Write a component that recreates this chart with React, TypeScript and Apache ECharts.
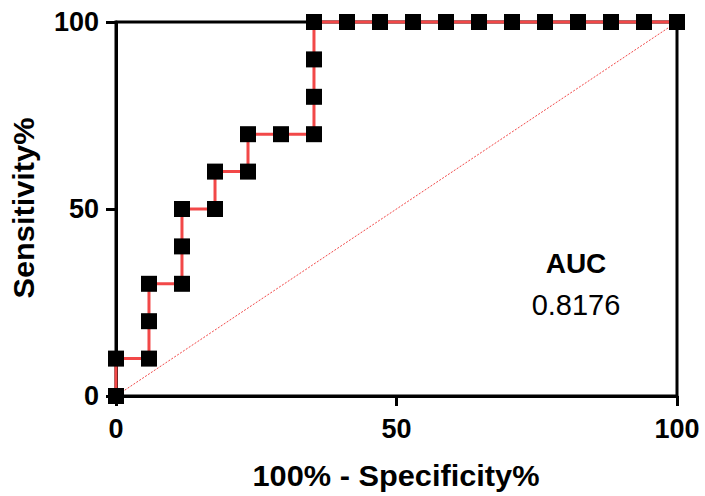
import React, { useEffect, useRef } from "react";
import * as echarts from "echarts";

const fprValues = [0, 0, 5.88, 5.88, 5.88, 11.76, 11.76, 11.76, 17.65, 17.65, 23.53, 23.53, 29.41, 35.29, 35.29, 35.29, 35.29, 41.18, 47.06, 52.94, 58.82, 64.71, 70.59, 76.47, 82.35, 88.24, 94.12, 100];
const sensValues = [0, 10, 10, 20, 30, 30, 40, 50, 50, 60, 60, 70, 70, 70, 80, 90, 100, 100, 100, 100, 100, 100, 100, 100, 100, 100, 100, 100];
const diagonalX = [0, 100];
const diagonalY = [0, 100];
const aucTitle = "AUC";
const aucValue = "0.8176";
const xTitle = "100% - Specificity%";
const yTitle = "Sensitivity%";

const FONT = "'Liberation Sans', Arial, Helvetica, sans-serif";
const RED = "#f24848";

export default function App() {
  const ref = useRef<HTMLDivElement>(null);
  useEffect(() => {
    document.body.style.margin = "0";
    const chart = echarts.init(ref.current!, null, { renderer: "svg" });
    const axisCommon = {
      type: "value" as const,
      min: 0,
      max: 100,
      interval: 50,
      splitLine: { show: false },
      axisLine: { show: true, lineStyle: { color: "#000", width: 3 } },
      axisTick: { show: true, length: 10, lineStyle: { color: "#000", width: 3 } },
    };
    chart.setOption({
      animation: false,
      backgroundColor: "#fff",
      grid: {
        left: 116,
        top: 22,
        width: 561,
        height: 374,
        show: true,
        borderColor: "#000",
        borderWidth: 3,
        backgroundColor: "transparent",
        containLabel: false,
        outerBoundsMode: "none",
      },
      xAxis: {
        ...axisCommon,
        axisLabel: { margin: 19, color: "#000", fontSize: 27, fontWeight: "bold", fontFamily: FONT },
      },
      yAxis: {
        ...axisCommon,
        axisLabel: { margin: 17, color: "#000", fontSize: 27, fontWeight: "bold", fontFamily: FONT },
      },
      series: [
        {
          type: "line",
          data: diagonalX.map((x, i) => [x, diagonalY[i]]),
          showSymbol: false,
          symbol: "none",
          lineStyle: { color: RED, width: 1, type: [2, 1.5] },
          clip: false,
          silent: true,
          z: 2,
        },
        {
          type: "line",
          data: fprValues.map((x, i) => [x, sensValues[i]]),
          symbol: "rect",
          symbolSize: 16,
          showAllSymbol: true,
          itemStyle: { color: "#000" },
          lineStyle: { color: RED, width: 3 },
          clip: false,
          z: 3,
        },
      ],
      graphic: [
        {
          type: "text",
          x: 396,
          y: 476,
          scaleX: 1.06,
          style: {
            text: xTitle,
            fill: "#000",
            font: `bold 29px ${FONT}`,
            align: "center",
            verticalAlign: "middle",
          },
        },
        {
          type: "text",
          x: 24,
          y: 208,
          rotation: Math.PI / 2,
          scaleX: 1.06,
          style: {
            text: yTitle,
            fill: "#000",
            font: `bold 29px ${FONT}`,
            align: "center",
            verticalAlign: "middle",
          },
        },
        {
          type: "text",
          x: 576,
          y: 263,
          style: {
            text: aucTitle,
            fill: "#000",
            font: `bold 28px ${FONT}`,
            align: "center",
            verticalAlign: "middle",
          },
        },
        {
          type: "text",
          x: 576,
          y: 305,
          style: {
            text: aucValue,
            fill: "#000",
            font: `29px ${FONT}`,
            align: "center",
            verticalAlign: "middle",
          },
        },
      ],
    });
    return () => chart.dispose();
  }, []);
  return <div ref={ref} style={{ width: 705, height: 496 }} />;
}
